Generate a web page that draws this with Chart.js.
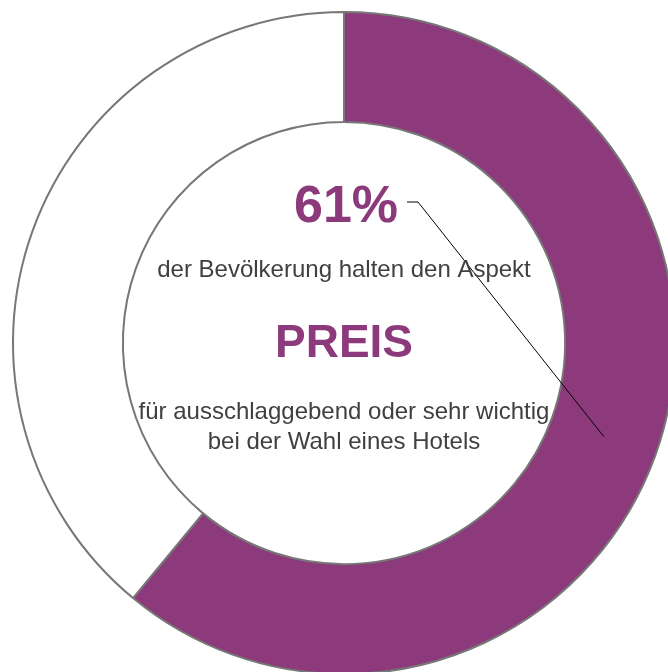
<!DOCTYPE html>
<html>
<head>
<meta charset="utf-8">
<script src="https://cdn.jsdelivr.net/npm/chart.js@4/dist/chart.umd.min.js"></script>
<style>
html,body{margin:0;padding:0;background:#fff;overflow:hidden;width:668px;height:672px;}
canvas{display:block;}
</style>
</head>
<body>
<canvas id="c" width="688" height="686" style="width:688px;height:686px"></canvas>
<script>
const categories = ["ausschlaggebend oder sehr wichtig", "Rest"];
const values = [61, 39];
const percentLabel = "61%";
const textLines = {
  line1: "der Bevölkerung halten den Aspekt",
  keyword: "PREIS",
  line3: "für ausschlaggebend oder sehr wichtig",
  line4: "bei der Wahl eines Hotels"
};

const PURPLE = "#8C3A7B";
const FONT = "'Liberation Sans', Arial, sans-serif";

const centerText = {
  id: "centerText",
  afterDraw(chart) {
    const ctx = chart.ctx;
    const arc = chart.getDatasetMeta(0).data[0];
    const cx = arc.x, cy = arc.y;
    ctx.save();
    ctx.textAlign = "center";
    ctx.textBaseline = "alphabetic";
    // 61%
    ctx.fillStyle = PURPLE;
    ctx.font = "bold 52px " + FONT;
    ctx.fillText(percentLabel, cx + 2, cy - 121);
    const w = ctx.measureText(percentLabel).width;
    // leader line to the centre of the purple arc
    const p = arc.getCenterPoint();
    const sx = cx + 2 + w / 2 + 9, sy = cy - 141;
    ctx.strokeStyle = "#000";
    ctx.lineWidth = 1;
    ctx.beginPath();
    ctx.moveTo(sx, sy);
    ctx.lineTo(sx + 11, sy);
    ctx.lineTo(p.x, p.y);
    ctx.stroke();
    // texts
    ctx.fillStyle = "#404040";
    ctx.font = "24px " + FONT;
    ctx.fillText(textLines.line1, cx, cy - 66);
    ctx.fillStyle = PURPLE;
    ctx.font = "bold 46px " + FONT;
    ctx.fillText(textLines.keyword, cx, cy + 14);
    ctx.fillStyle = "#404040";
    ctx.font = "24px " + FONT;
    ctx.fillText(textLines.line3, cx, cy + 76);
    ctx.fillText(textLines.line4, cx, cy + 106);
    ctx.restore();
  }
};

new Chart(document.getElementById("c"), {
  type: "doughnut",
  data: {
    labels: categories,
    datasets: [{
      data: values,
      backgroundColor: [PURPLE, "#FFFFFF"],
      borderColor: "#777777",
      borderWidth: 2,
      borderAlign: "center"
    }]
  },
  options: {
    responsive: false,
    animation: false,
    devicePixelRatio: 1,
    radius: 331,
    cutout: "66.8%",
    plugins: { legend: { display: false }, tooltip: { enabled: false } }
  },
  plugins: [centerText]
});
</script>
</body>
</html>
